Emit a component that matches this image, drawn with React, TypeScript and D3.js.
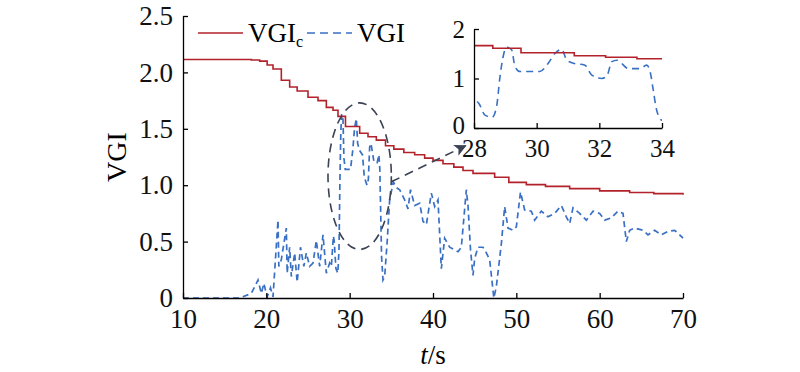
import React, { useEffect, useRef } from 'react';
import * as d3 from 'd3';

// VGIc (stepwise critical value)
const vgicT = [10, 18.2, 19.2, 20.1, 20.8, 21.8, 22.8, 23.7, 25.0, 26.2, 27.2, 28.0, 28.6, 29.5, 31.2, 32.2, 33.2, 34.3, 35.3, 36.5, 37.8, 39.0, 40.0, 41.2, 42.5, 43.6, 44.8, 47.4, 49.1, 51.2, 53.5, 56.4, 60.0, 63.6, 66.5, 70];
const vgicV = [2.115, 2.11, 2.1, 2.065, 2.03, 1.93, 1.87, 1.835, 1.78, 1.75, 1.69, 1.665, 1.61, 1.52, 1.46, 1.43, 1.4, 1.35, 1.32, 1.29, 1.27, 1.24, 1.22, 1.19, 1.16, 1.13, 1.105, 1.07, 1.025, 1.005, 0.99, 0.97, 0.95, 0.935, 0.925, 0.915];

// VGI (measured)
const vgiT = [10, 16.8, 18.2, 19.0, 19.4, 19.7, 20.1, 20.5, 20.8, 21.4, 21.5, 21.8, 22.4, 22.5, 22.8, 23.0, 23.4, 23.7, 24.1, 24.5, 24.8, 25.2, 25.6, 26.0, 26.4, 26.8, 27.2, 27.6, 27.8, 28.05, 28.15, 28.35, 28.58, 28.72, 28.83, 28.94, 29.04, 29.2, 29.31, 29.47, 30.1, 30.37, 30.59, 30.8, 30.96, 31.17, 31.54, 31.76, 32.08, 32.24, 32.4, 32.56, 32.93, 33.3, 33.51, 33.62, 33.72, 33.83, 34.0, 34.2, 34.5, 34.8, 35.24, 35.6, 36.0, 36.6, 37.0, 37.3, 37.8, 38.4, 38.8, 39.2, 39.8, 40.2, 40.6, 41.0, 41.4, 42.0, 43.0, 43.4, 44.0, 44.2, 44.5, 44.8, 45.0, 45.4, 46.0, 46.4, 46.8, 47.3, 47.6, 48.2, 48.6, 49.0, 49.6, 50.0, 50.5, 51.0, 51.8, 52.2, 53.0, 53.8, 54.6, 55.4, 56.0, 56.4, 56.8, 57.6, 58.4, 59.2, 60.0, 60.6, 61.4, 62.2, 62.8, 63.2, 63.6, 64.2, 65.2, 65.8, 66.6, 67.4, 68.2, 69.0, 69.6, 70];
const vgiV = [0, 0, 0.04, 0.16, 0.04, 0.13, 0.01, 0.09, 0.01, 0.69, 0.28, 0.34, 0.62, 0.22, 0.45, 0.19, 0.4, 0.14, 0.45, 0.28, 0.4, 0.28, 0.31, 0.51, 0.28, 0.56, 0.22, 0.31, 0.28, 0.55, 0.5, 0.26, 0.22, 0.43, 1.04, 1.47, 1.63, 1.58, 1.24, 1.14, 1.14, 1.31, 1.51, 1.59, 1.37, 1.31, 1.27, 1.07, 1.0, 1.05, 1.34, 1.37, 1.2, 1.2, 1.27, 1.14, 0.77, 0.36, 0.16, 0.19, 0.5, 0.87, 1.03, 0.98, 0.96, 0.87, 0.79, 0.96, 0.82, 0.84, 0.68, 0.65, 0.93, 0.81, 0.87, 0.26, 0.53, 0.45, 0.41, 0.45, 0.96, 0.82, 0.43, 0.2, 0.35, 0.45, 0.45, 0.4, 0.34, 0.0, 0.1, 0.48, 0.81, 0.62, 0.6, 0.63, 0.94, 0.78, 0.77, 0.69, 0.77, 0.72, 0.75, 0.82, 0.72, 0.66, 0.8, 0.75, 0.69, 0.77, 0.75, 0.69, 0.71, 0.77, 0.75, 0.5, 0.6, 0.62, 0.6, 0.56, 0.6, 0.56, 0.59, 0.6, 0.56, 0.53];

const mainYTicks = [0, 0.5, 1.0, 1.5, 2.0, 2.5];
const mainXTicks = [10, 20, 30, 40, 50, 60, 70];
const insetXTicks = [28, 30, 32, 34];
const insetYTicks = [0, 1, 2];

const RED = '#b3222b';
const BLUE = '#3a70c4';
const DARK = '#3a4254';
const FONT = '"Liberation Serif", "Times New Roman", serif';

type P = [number, number];

export default function App() {
  const svgRef = useRef<SVGSVGElement>(null);

  useEffect(() => {
    if (!svgRef.current) return;
    const svg = d3.select(svgRef.current);
    svg.selectAll('*').remove();

    const vgic: P[] = vgicT.map((t, i) => [t, vgicV[i]]);
    const vgi: P[] = vgiT.map((t, i) => [t, vgiV[i]]);

    // main chart
    const x = d3.scaleLinear().domain([10, 70]).range([183, 683]);
    const y = d3.scaleLinear().domain([0, 2.5]).range([298, 16]);

    const g = svg.append('g');

    const styleAxis = (sel: d3.Selection<SVGGElement, unknown, null, undefined>, size: number) => {
      sel.selectAll('path').attr('stroke', '#000').attr('stroke-width', 1.3);
      sel.selectAll('line').attr('stroke', '#000').attr('stroke-width', 1.3);
      sel.selectAll('text').attr('font-family', FONT).attr('font-size', size).attr('fill', '#111');
    };

    const redLine = (xs: d3.ScaleLinear<number, number>, ys: d3.ScaleLinear<number, number>) =>
      d3.line<P>().x(d => xs(d[0])).y(d => ys(d[1])).curve(d3.curveStepAfter);

    g.append('path')
      .attr('d', d3.line<P>().x(d => x(d[0])).y(d => y(d[1]))(vgi) as string)
      .attr('fill', 'none')
      .attr('stroke', BLUE)
      .attr('stroke-width', 1.7)
      .attr('stroke-dasharray', '6,4');

    g.append('path')
      .attr('d', redLine(x, y)(vgic) as string)
      .attr('fill', 'none')
      .attr('stroke', RED)
      .attr('stroke-width', 1.6);

    const yAxis = g.append('g')
      .attr('transform', `translate(${x(10)},0)`)
      .call(d3.axisLeft(y).tickValues(mainYTicks).tickSize(-5).tickSizeOuter(0).tickPadding(10)
        .tickFormat(d => (+d === 0 ? '0' : d3.format('.1f')(+d))));
    styleAxis(yAxis, 27);

    const xAxis = g.append('g')
      .attr('transform', `translate(0,${y(0)})`)
      .call(d3.axisBottom(x).tickValues(mainXTicks).tickSize(-5).tickSizeOuter(0).tickPadding(11));
    styleAxis(xAxis, 27);

    // axis titles
    g.append('text')
      .attr('transform', `translate(126,${(y(0) + y(2.5)) / 2}) rotate(-90)`)
      .attr('text-anchor', 'middle')
      .attr('font-family', FONT)
      .attr('font-size', 28)
      .text('VGI');

    const xt = g.append('text')
      .attr('x', (x(10) + x(70)) / 2)
      .attr('y', 364)
      .attr('text-anchor', 'middle')
      .attr('font-family', FONT)
      .attr('font-size', 27);
    xt.append('tspan').attr('font-style', 'italic').text('t');
    xt.append('tspan').text('/s');

    // legend
    const lg = g.append('g');
    lg.append('line').attr('x1', 198).attr('x2', 243).attr('y1', 33).attr('y2', 33)
      .attr('stroke', RED).attr('stroke-width', 1.6);
    const lt = lg.append('text').attr('x', 248).attr('y', 42)
      .attr('font-family', FONT).attr('font-size', 27);
    lt.append('tspan').text('VGI');
    lt.append('tspan').attr('font-size', 16).attr('dy', 5).text('c');
    lg.append('line').attr('x1', 307).attr('x2', 352).attr('y1', 33).attr('y2', 33)
      .attr('stroke', BLUE).attr('stroke-width', 1.6).attr('stroke-dasharray', '8,5');
    lg.append('text').attr('x', 357).attr('y', 42)
      .attr('font-family', FONT).attr('font-size', 27).text('VGI');

    // ellipse annotation and arrow
    g.append('ellipse')
      .attr('cx', x(31.2)).attr('cy', y(1.08))
      .attr('rx', x(35) - x(31.2)).attr('ry', y(0.43) - y(1.08))
      .attr('fill', 'none').attr('stroke', DARK).attr('stroke-width', 1.6)
      .attr('stroke-dasharray', '9,6');

    const defs = svg.append('defs');
    defs.append('marker').attr('id', 'ah').attr('viewBox', '0 0 10 10')
      .attr('refX', 9).attr('refY', 5).attr('markerWidth', 12).attr('markerHeight', 12)
      .attr('markerUnits', 'userSpaceOnUse').attr('orient', 'auto')
      .append('path').attr('d', 'M0,0 L10,5 L0,10 L2.5,5 Z').attr('fill', DARK);

    g.append('line')
      .attr('x1', x(35.0)).attr('y1', y(1.03))
      .attr('x2', x(43.9)).attr('y2', y(1.35))
      .attr('stroke', DARK).attr('stroke-width', 1.6).attr('stroke-dasharray', '9,6')
      .attr('marker-end', 'url(#ah)');

    // inset
    const xi = d3.scaleLinear().domain([28, 34]).range([474, 662]);
    const yi = d3.scaleLinear().domain([0, 2]).range([128, 29]);

    defs.append('clipPath').attr('id', 'insetClip')
      .append('rect').attr('x', xi(28)).attr('y', yi(2) - 5).attr('width', xi(34) - xi(28)).attr('height', yi(0) - yi(2) + 5);

    const ig = svg.append('g');
    const inner = ig.append('g').attr('clip-path', 'url(#insetClip)');
    const vgiIn = vgi.filter(d => d[0] >= 27.6 && d[0] <= 34.5);
    inner.append('path')
      .attr('d', d3.line<P>().x(d => xi(d[0])).y(d => yi(d[1])).curve(d3.curveMonotoneX)(vgiIn) as string)
      .attr('fill', 'none').attr('stroke', BLUE).attr('stroke-width', 1.6).attr('stroke-dasharray', '7,5');
    inner.append('path')
      .attr('d', redLine(xi, yi)(vgic) as string)
      .attr('fill', 'none').attr('stroke', RED).attr('stroke-width', 1.6);

    const iy = ig.append('g').attr('transform', `translate(${xi(28)},0)`)
      .call(d3.axisLeft(yi).tickValues(insetYTicks).tickSize(-5).tickSizeOuter(0).tickPadding(9)
        .tickFormat(d3.format('d')));
    styleAxis(iy, 25);
    iy.selectAll('.tick text').filter(d => +(d as number) === 0).attr('dy', '0.2em');
    const ix = ig.append('g').attr('transform', `translate(0,${yi(0)})`)
      .call(d3.axisBottom(xi).tickValues(insetXTicks).tickSize(-5).tickSizeOuter(0).tickPadding(11)
        .tickFormat(d3.format('d')));
    styleAxis(ix, 25);
  }, []);

  return (
    <svg ref={svgRef} width={800} height={372}
      style={{ position: 'absolute', left: 0, top: 0, background: '#fff' }} />
  );
}
